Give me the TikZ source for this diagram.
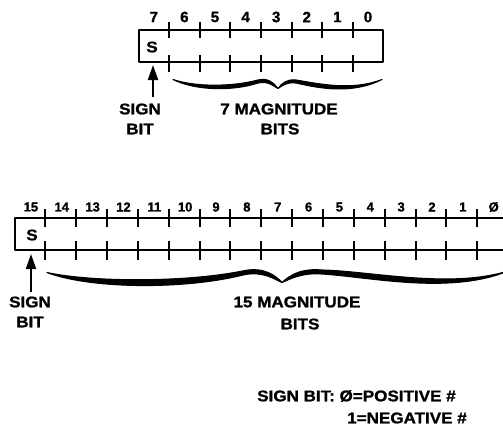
\documentclass[tikz,border=0pt]{standalone}
\usepackage{fontspec}
\setmainfont{Liberation Sans}
\newfontfamily\widesans{Liberation Sans}[FakeStretch=1.1,FakeBold=1.2]
\newfontfamily\numsans{Liberation Sans}[FakeBold=1.2]
\usetikzlibrary{arrows.meta}

\begin{document}
\begin{tikzpicture}[x=1pt,y=-1pt,
  reg/.style={line width=2pt, line join=round},
  tickmark/.style={line width=2pt},
  lbl/.style={font=\widesans\bfseries\fontsize{15.5}{15.5}\selectfont, inner sep=0pt},
  bitnum/.style={font=\numsans\bfseries\fontsize{15}{15}\selectfont, inner sep=0pt},
  smallnum/.style={font=\numsans\bfseries\fontsize{13}{13}\selectfont, inner sep=0pt},
  signarrow/.style={line width=2pt, -{Triangle[length=15pt,width=10pt]}},
  bracefill/.style={fill=black, draw=black, line width=1.1pt, line join=round}]

\useasboundingbox (0,0) rectangle (503,428);
\clip (0,0) rectangle (503,428);

% ---------- 8-bit register ----------
\draw[reg] (138.5,30) rectangle (383.3,62);
\foreach \k in {1,...,7} {
  \draw[tickmark] ({138.5+30.6*\k},22) -- ++(0,16);
  \draw[tickmark] ({138.5+30.6*\k},55) -- ++(0,17);
}
\foreach \k in {0,...,7} {
  \pgfmathtruncatemacro{\b}{7-\k}
  \node[bitnum] (tb\k) at ({138.5+30.6*(\k+0.5)},17) {\b};
}
\node[lbl] (ts) at (152,47) {S};

% sign bit arrow
\coordinate (ttail) at (153,97);
\coordinate (ttip) at (153,65);
\draw[signarrow] (ttail) -- (ttip);
\node[lbl] (tsign) at (140,109) {SIGN};
\node[lbl] (tbit) at (140,129) {BIT};

% brace over the magnitude bits
\fill[bracefill] (173,79.5) .. controls (195,87) and (232,87) .. (258,80)
  .. controls (268,77.5) and (274,83) .. (278,88.5)
  .. controls (272,85) and (268,81) .. (258,83)
  .. controls (232,91.5) and (195,90.5) .. (173,79.5) -- cycle;
\fill[bracefill] (278,88.5) .. controls (282,83) and (287,79) .. (296,80)
  .. controls (320,84) and (352,91) .. (382,79.5)
  .. controls (352,94.5) and (320,88.5) .. (296,83)
  .. controls (287,82) and (283,85) .. (278,88.5) -- cycle;
\node[lbl] (tmag) at (279,109) {7 MAGNITUDE};
\node[lbl] (tbits) at (280,129) {BITS};

% ---------- 16-bit register ----------
\draw[reg] (510,218) -- (14.5,218) -- (14.5,250) -- (510,250);
\foreach \k in {1,...,15} {
  \draw[tickmark] ({14.5+30.85*\k},209) -- ++(0,18);
  \draw[tickmark] ({14.5+30.85*\k},241) -- ++(0,19);
}
\foreach \k in {0,...,14} {
  \pgfmathtruncatemacro{\b}{15-\k}
  \node[smallnum] (bb\k) at ({15.5+30.85*(\k+0.5)},207) {\b};
}
\node[smallnum] (bb15) at ({15.5+30.85*15.5},207) {Ø};
\node[lbl] (bs) at (32,235) {S};

% sign bit arrow
\coordinate (btail) at (31,292);
\coordinate (btip) at (31,254);
\draw[signarrow] (btail) -- (btip);
\node[lbl] (bsign) at (30,302) {SIGN};
\node[lbl] (bbit) at (30,322) {BIT};

% brace over the magnitude bits
\fill[bracefill] (47,272.5) .. controls (90,282) and (185,283) .. (245,270.5)
  .. controls (265,267) and (276,276) .. (282,282.5)
  .. controls (274,279) and (264,271.5) .. (245,274.5)
  .. controls (185,290) and (90,289) .. (47,272.5) -- cycle;
\fill[bracefill] (282,282.5) .. controls (289,276) and (300,268) .. (322,270)
  .. controls (370,271) and (450,289) .. (508,271)
  .. controls (450,295) and (370,277) .. (322,274)
  .. controls (302,272.5) and (290,279) .. (282,282.5) -- cycle;
\node[lbl] (bmag) at (297,302) {15 MAGNITUDE};
\node[lbl] (bbits) at (300,324) {BITS};

% ---------- legend ----------
\node[lbl, anchor=west] (leg1) at (257,396) {SIGN BIT: Ø=POSITIVE \#};
\node[lbl, anchor=west] (leg2) at (347,418) {1=NEGATIVE \#};

\end{tikzpicture}
\end{document}
